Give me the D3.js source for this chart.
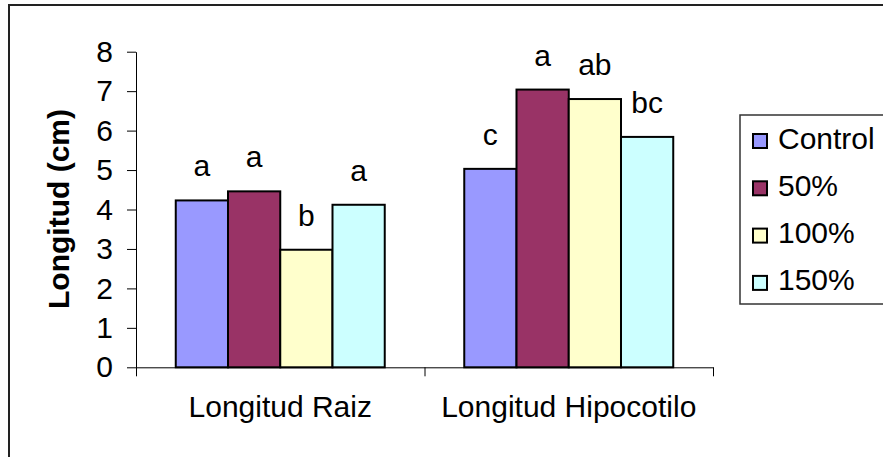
<!DOCTYPE html>
<html>
<head>
<meta charset="utf-8">
<script src="https://d3js.org/d3.v7.min.js"></script>
<style>
  body { margin: 0; background: #fff; }
  svg { display: block; font-family: "Liberation Sans", Arial, sans-serif; }
</style>
</head>
<body>
<svg id="chart"></svg>
<script>
// データ
const categories = ['Longitud Raiz', 'Longitud Hipocotilo'];
const seriesNames = ['Control', '50%', '100%', '150%'];
const raizValues = [4.23, 4.46, 2.98, 4.12];
const hipocotiloValues = [5.03, 7.04, 6.80, 5.84];
const raizLetters = ['a', 'a', 'b', 'a'];
const hipocotiloLetters = ['c', 'a', 'ab', 'bc'];
const yTicks = [0, 1, 2, 3, 4, 5, 6, 7, 8];
const colors = ['#9999FF', '#993366', '#FFFFCC', '#CCFFFF'];

class GroupedBarChart {
    constructor (config, data) {
        this.config = {
            parent: config.parent,
            width: config.width || 256,
            height: config.height || 256,
            margin: config.margin || {top:10, right:10, bottom:10, left:10},
            ylabel: config.ylabel || ''
        };
        this.data = data;
        this.init();
    }

    init() {
        let self = this;

        self.svg = d3.select(self.config.parent)
            .attr('width', self.config.width)
            .attr('height', self.config.height);

        // 外枠
        self.svg.append('rect')
            .attr('x', 9)
            .attr('y', 5)
            .attr('width', 1000)
            .attr('height', 1000)
            .attr('fill', 'none')
            .attr('stroke', '#222')
            .attr('stroke-width', 2);

        self.chart = self.svg.append('g')
            .attr('transform', `translate(${self.config.margin.left}, ${self.config.margin.top})`);

        self.inner_width = self.config.width - self.config.margin.left - self.config.margin.right;
        self.inner_height = self.config.height - self.config.margin.top - self.config.margin.bottom;

        self.x0 = d3.scaleBand()
            .domain(categories)
            .range([0, self.inner_width])
            .paddingInner(0.2756)
            .paddingOuter(0.1378);

        self.x1 = d3.scaleBand()
            .domain(seriesNames)
            .range([0, self.x0.bandwidth()]);

        self.yscale = d3.scaleLinear()
            .domain([0, 8])
            .range([self.inner_height, 0]);

        self.color = d3.scaleOrdinal()
            .domain(seriesNames)
            .range(colors);
    }

    render() {
        let self = this;

        // y軸
        self.chart.append('g')
            .call(d3.axisLeft(self.yscale).tickValues(yTicks).tickFormat(d3.format('d'))
                .tickSize(9).tickSizeOuter(0).tickPadding(14))
            .call(g => g.select('.domain').attr('stroke', '#000'))
            .call(g => g.selectAll('.tick line').attr('stroke', '#000'))
            .call(g => g.selectAll('.tick text')
                .attr('fill', '#000')
                .style('font-size', '30px')
                .style('font-family', '"Liberation Sans", Arial, sans-serif'));

        // x軸 (境界の目盛り)
        const xbound = d3.scaleLinear().domain([0, categories.length]).range([0, self.inner_width]);
        self.chart.append('g')
            .attr('transform', `translate(0, ${self.inner_height})`)
            .call(d3.axisBottom(xbound).ticks(categories.length).tickFormat('')
                .tickSize(9).tickSizeOuter(0))
            .call(g => g.select('.domain').attr('stroke', '#000'))
            .call(g => g.selectAll('.tick line').attr('stroke', '#000'));

        // カテゴリラベル
        self.chart.append('g')
            .attr('transform', `translate(0, ${self.inner_height})`)
            .call(d3.axisBottom(self.x0).tickSize(0).tickPadding(28.5))
            .call(g => g.select('.domain').remove())
            .call(g => g.selectAll('.tick text')
                .attr('fill', '#000')
                .style('font-size', '30px')
                .style('font-family', '"Liberation Sans", Arial, sans-serif'));

        // 棒
        const groups = self.chart.selectAll('.group')
            .data(self.data)
            .join('g')
            .attr('class', 'group')
            .attr('transform', d => `translate(${self.x0(d.category)}, 0)`);

        groups.selectAll('rect')
            .data(d => d.values)
            .join('rect')
            .attr('x', d => self.x1(d.series))
            .attr('y', d => self.yscale(d.value))
            .attr('width', self.x1.bandwidth())
            .attr('height', d => self.inner_height - self.yscale(d.value))
            .attr('fill', d => self.color(d.series))
            .attr('stroke', '#000')
            .attr('stroke-width', 2);

        // 有意差の文字
        groups.selectAll('text')
            .data(d => d.values)
            .join('text')
            .attr('x', d => self.x1(d.series) + self.x1.bandwidth() / 2)
            .attr('y', d => self.yscale(d.value) - 24)
            .attr('text-anchor', 'middle')
            .style('font-size', '30px')
            .text(d => d.letter);

        // y軸ラベル
        self.svg.append('text')
            .attr('transform', 'translate(69, 209) rotate(-90)')
            .attr('text-anchor', 'middle')
            .style('font-size', '30px')
            .style('font-weight', 'bold')
            .text(self.config.ylabel);

        // 凡例
        const legend = self.svg.append('g')
            .attr('transform', 'translate(740, 115)');
        legend.append('rect')
            .attr('x', 0)
            .attr('y', 0)
            .attr('width', 300)
            .attr('height', 189)
            .attr('fill', '#fff')
            .attr('stroke', '#333')
            .attr('stroke-width', 1.5);

        const items = legend.selectAll('.item')
            .data(seriesNames)
            .join('g')
            .attr('class', 'item')
            .attr('transform', (d, i) => `translate(0, ${23 + i * 47.3})`);
        items.append('rect')
            .attr('x', 13)
            .attr('y', -4)
            .attr('width', 14)
            .attr('height', 14)
            .attr('fill', d => self.color(d))
            .attr('stroke', '#000')
            .attr('stroke-width', 2);
        items.append('text')
            .attr('x', 38)
            .attr('dy', '0.35em')
            .style('font-size', '30px')
            .text(d => d);
    }
}

const data = [
    { category: categories[0], values: seriesNames.map((s, i) => ({ series: s, value: raizValues[i], letter: raizLetters[i] })) },
    { category: categories[1], values: seriesNames.map((s, i) => ({ series: s, value: hipocotiloValues[i], letter: hipocotiloLetters[i] })) }
];

const chart = new GroupedBarChart({
    parent: '#chart',
    width: 883,
    height: 457,
    margin: {top: 51.7, right: 170, bottom: 89.7, left: 136},
    ylabel: 'Longitud (cm)'
}, data);
chart.render();
</script>
</body>
</html>
